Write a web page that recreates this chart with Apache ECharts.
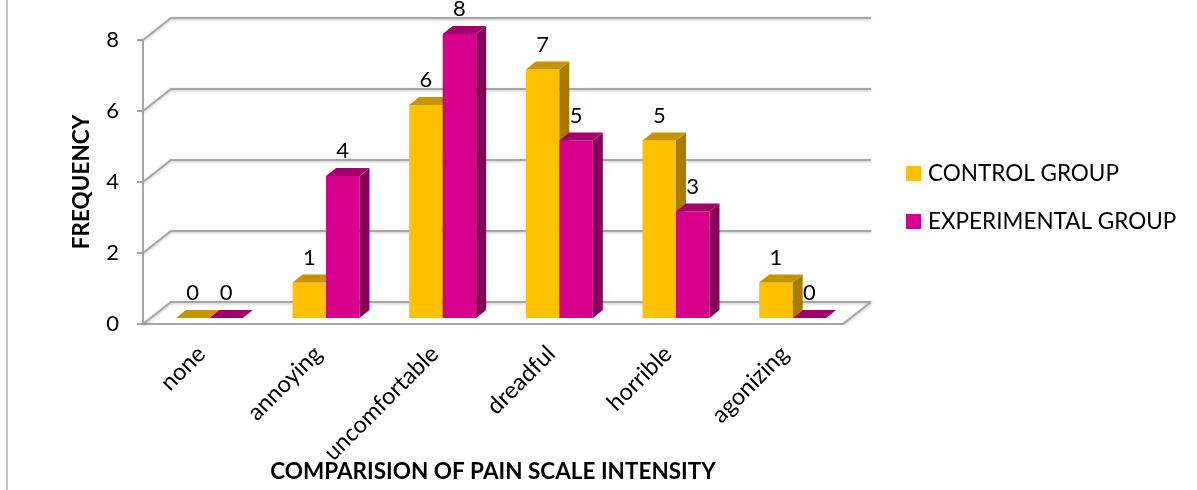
<!DOCTYPE html>
<html>
<head>
<meta charset="utf-8">
<title>Comparision of pain scale intensity</title>
<style>
html, body { margin: 0; padding: 0; background: #fff; }
#chart { width: 1197px; height: 490px; }
</style>
</head>
<body>
<div id="chart"></div>
<script src="https://cdn.jsdelivr.net/npm/echarts@6/dist/echarts.min.js"></script>
<script>
var categories = ['none', 'annoying', 'uncomfortable', 'dreadful', 'horrible', 'agonizing'];
var controlGroup = [0, 1, 6, 7, 5, 1];
var experimentalGroup = [0, 4, 8, 5, 3, 0];
var yTicks = [0, 2, 4, 6, 8];

var FONT = 'Lato';
var WALL = [28, -22];      // depth of the back wall
var SHIFT = [8, -6];       // bars sit a bit behind the front plane
var BAR_DEPTH = [10, -8];
var GRID_COLOR = '#a6a6a6';

var chart = echarts.init(document.getElementById('chart'));

function barRenderer(slot, front, top, side) {
    return function (params, api) {
        var idx = api.value(0), v = api.value(1);
        var base = api.coord([idx, 0]);
        var p = api.coord([idx, v]);
        var bw = api.size([1, 0])[0] * 0.287;
        var x0 = base[0] + SHIFT[0] + (slot === 0 ? -bw : 0);
        var x1 = x0 + bw;
        var yb = base[1] + SHIFT[1];
        var yt = p[1] + SHIFT[1];
        var dx = BAR_DEPTH[0], dy = BAR_DEPTH[1];
        return {
            type: 'group',
            children: [
                { type: 'polygon', shape: { points: [[x0, yb], [x1, yb], [x1, yt], [x0, yt]] }, style: { fill: front } },
                { type: 'polygon', shape: { points: [[x1, yb], [x1 + dx, yb + dy], [x1 + dx, yt + dy], [x1, yt]] }, style: { fill: side } },
                { type: 'polygon', shape: { points: [[x0, yt], [x1, yt], [x1 + dx, yt + dy], [x0 + dx, yt + dy]] }, style: { fill: top } },
                { type: 'text', x: (x0 + x1) / 2, y: yt - 25,
                  style: { text: String(v), fontSize: 22, fontFamily: FONT, fill: '#000', align: 'center', verticalAlign: 'middle' } }
            ]
        };
    };
}

function wallRenderer(params, api) {
    var v = api.value(1);
    var cs = params.coordSys;
    var y = api.coord([0, v])[1];
    var xl = cs.x, xr = cs.x + cs.width;
    var lineStyle = { stroke: GRID_COLOR, lineWidth: 2, fill: null,
        shadowBlur: 3, shadowColor: 'rgba(0,0,0,0.25)', shadowOffsetY: 1 };
    var children = [{
        type: 'polyline',
        shape: { points: [[xl, y], [xl + WALL[0], y + WALL[1]], [xr + WALL[0], y + WALL[1]]] },
        style: lineStyle
    }];
    if (v === 0) {
        children.push({ type: 'line', shape: { x1: xr, y1: y, x2: xr + WALL[0], y2: y + WALL[1] }, style: lineStyle });
    }
    return { type: 'group', children: children };
}

chart.setOption({
    animation: false,
    textStyle: { fontFamily: FONT },
    graphic: [{
        type: 'line', shape: { x1: 7, y1: 0, x2: 7, y2: 490 },
        style: { stroke: '#c4c4c4', lineWidth: 2 }
    }],
    legend: {
        orient: 'vertical',
        left: 901,
        top: 157,
        itemWidth: 15,
        itemHeight: 15,
        itemGap: 25,
        icon: 'rect',
        data: ['CONTROL GROUP', 'EXPERIMENTAL GROUP'],
        textStyle: { fontSize: 22.5, color: '#000', fontFamily: FONT, padding: [0, 0, 0, 2] }
    },
    grid: { left: 143, top: 40, width: 700, height: 284, outerBoundsMode: 'none', containLabel: false },
    xAxis: {
        type: 'category',
        data: categories,
        name: 'COMPARISION OF PAIN SCALE INTENSITY',
        nameLocation: 'middle',
        nameGap: 136,
        nameMoveOverlap: false,
        nameTextStyle: { fontSize: 22.5, fontWeight: 'bold', color: '#000', fontFamily: FONT },
        axisLine: { lineStyle: { color: GRID_COLOR, width: 2 } },
        axisTick: { length: 8, lineStyle: { color: GRID_COLOR, width: 2 } },
        axisLabel: { rotate: 45, fontSize: 23.5, color: '#000', margin: 26, fontFamily: FONT },
        splitLine: { show: false }
    },
    yAxis: {
        type: 'value',
        min: 0,
        max: 8,
        interval: 2,
        name: 'FREQUENCY',
        nameLocation: 'middle',
        nameRotate: 90,
        nameGap: 50,
        nameMoveOverlap: false,
        nameTextStyle: { fontSize: 22.5, fontWeight: 'bold', color: '#000', fontFamily: FONT },
        axisLine: { show: true, lineStyle: { color: GRID_COLOR, width: 2 } },
        axisTick: { show: true, length: 6, lineStyle: { color: GRID_COLOR, width: 2 } },
        axisLabel: { fontSize: 22, color: '#000', margin: 24, fontFamily: FONT },
        splitLine: { show: false }
    },
    series: [
        {
            name: 'walls',
            type: 'custom',
            z: 1,
            clip: false,
            silent: true,
            itemStyle: { color: GRID_COLOR },
            renderItem: wallRenderer,
            data: yTicks.map(function (v) { return [0, v]; })
        },
        {
            name: 'CONTROL GROUP',
            type: 'custom',
            z: 3,
            clip: false,
            itemStyle: { color: '#FFC000' },
            renderItem: barRenderer(0, '#FFC000', '#C69400', '#A67C00'),
            data: controlGroup.map(function (v, i) { return [i, v]; })
        },
        {
            name: 'EXPERIMENTAL GROUP',
            type: 'custom',
            z: 4,
            clip: false,
            itemStyle: { color: '#D6008C' },
            renderItem: barRenderer(1, '#D6008C', '#A3006B', '#86005A'),
            data: experimentalGroup.map(function (v, i) { return [i, v]; })
        }
    ]
});
</script>
</body>
</html>
